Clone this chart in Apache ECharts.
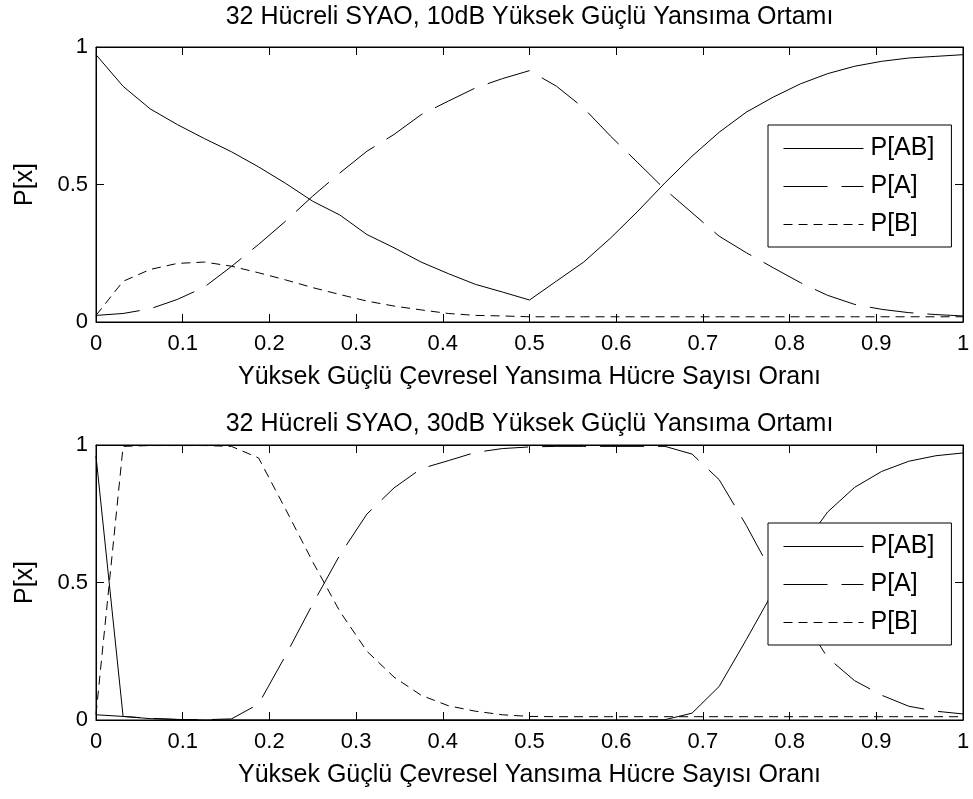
<!DOCTYPE html>
<html>
<head>
<meta charset="utf-8">
<title>SYAO</title>
<script src="https://cdn.jsdelivr.net/npm/echarts@6/dist/echarts.min.js"></script>
<style>
  html, body { margin: 0; padding: 0; background: #fff; }
  #chart { width: 973px; height: 799px; }
</style>
</head>
<body>
<div id="chart"></div>
<script>
// Number of high-power clutter cells out of 32 (x axis is this count / 32)
const cellCounts = [0, 1, 2, 3, 4, 5, 6, 7, 8, 9, 10, 11, 12, 13, 14, 15, 16,
                    17, 18, 19, 20, 21, 22, 23, 24, 25, 26, 27, 28, 29, 30, 31, 32];
const totalCells = 32;

const xTicks = ['0', '0.1', '0.2', '0.3', '0.4', '0.5', '0.6', '0.7', '0.8', '0.9', '1'];
const yTicks = ['0', '0.5', '1'];

const seriesNames = ['P[AB]', 'P[A]', 'P[B]'];
const titles = [
  '32 Hücreli SYAO, 10dB Yüksek Güçlü Yansıma Ortamı',
  '32 Hücreli SYAO, 30dB Yüksek Güçlü Yansıma Ortamı'
];
const xName = 'Yüksek Güçlü Çevresel Yansıma Hücre Sayısı Oranı';
const yName = 'P[x]';

// 10 dB environment
const pAB10 = [0.972, 0.857, 0.775, 0.718, 0.667, 0.619, 0.564, 0.504, 0.439, 0.389, 0.318,
               0.270, 0.218, 0.176, 0.137, 0.109, 0.080, 0.149, 0.218, 0.306, 0.403, 0.506,
               0.603, 0.690, 0.763, 0.818, 0.866, 0.903, 0.930, 0.948, 0.960, 0.966, 0.972];
const pA10  = [0.024, 0.031, 0.048, 0.082, 0.127, 0.202, 0.282, 0.367, 0.458, 0.542, 0.621,
               0.682, 0.754, 0.803, 0.851, 0.885, 0.914, 0.857, 0.778, 0.675, 0.579, 0.482,
               0.397, 0.312, 0.252, 0.197, 0.143, 0.097, 0.064, 0.046, 0.034, 0.027, 0.022];
const pB10  = [0.024, 0.148, 0.191, 0.213, 0.218, 0.203, 0.179, 0.153, 0.125, 0.100, 0.076,
               0.058, 0.044, 0.031, 0.024, 0.022, 0.019, 0.019, 0.019, 0.019, 0.019, 0.019,
               0.019, 0.019, 0.019, 0.019, 0.019, 0.019, 0.019, 0.019, 0.019, 0.019, 0.019];

// 30 dB environment
const pAB30 = [0.960, 0.013, 0.005, 0.002, 0.000, 0.000, 0.000, 0.000, 0.000, 0.000, 0.000,
               0.000, 0.000, 0.000, 0.000, 0.000, 0.000, 0.000, 0.000, 0.000, 0.000, 0.001,
               0.025, 0.122, 0.292, 0.468, 0.621, 0.756, 0.846, 0.904, 0.941, 0.961, 0.971];
const pA30  = [0.019, 0.013, 0.006, 0.002, 0.001, 0.004, 0.058, 0.235, 0.422, 0.600, 0.749,
               0.844, 0.914, 0.943, 0.973, 0.987, 0.993, 0.995, 0.995, 0.995, 0.995, 0.995,
               0.967, 0.874, 0.708, 0.526, 0.383, 0.227, 0.143, 0.090, 0.050, 0.032, 0.022];
const pB30  = [0.020, 0.995, 0.998, 0.998, 0.998, 0.995, 0.953, 0.766, 0.575, 0.395, 0.250,
               0.156, 0.090, 0.052, 0.032, 0.019, 0.013, 0.012, 0.012, 0.012, 0.012, 0.012,
               0.012, 0.012, 0.012, 0.012, 0.012, 0.012, 0.012, 0.012, 0.012, 0.012, 0.012];

const panels = [
  { title: titles[0], values: [pAB10, pA10, pB10], titleTop: 5 },
  { title: titles[1], values: [pAB30, pA30, pB30], titleTop: 412 }
];

const FONT = "'Liberation Sans', Arial, Helvetica, sans-serif";
const lineTypes = ['solid', [44, 14], [9, 6]];

const plotLeft = 96, plotWidth = 867;
const plotTops = [47, 445];
const plotHeight = 275;

const grids = [], xAxes = [], yAxes = [], series = [], titleOpts = [], legends = [];

const baseTick = { show: true, inside: true, length: 8, lineStyle: { color: '#000', width: 1 } };
const baseLine = { show: true, onZero: false, lineStyle: { color: '#000', width: 1 } };

panels.forEach((panel, g) => {
  grids.push({ left: plotLeft, top: plotTops[g], width: plotWidth, height: plotHeight,
               show: true, borderColor: '#000', borderWidth: 1, backgroundColor: '#fff' });

  // bottom x axis with labels, top x axis with ticks only
  xAxes.push({
    type: 'value', gridIndex: g, position: 'bottom', min: 0, max: 1, interval: 0.1,
    axisLine: baseLine, axisTick: baseTick, splitLine: { show: false },
    axisLabel: { color: '#000', fontSize: 22, fontFamily: FONT, margin: 11,
                 formatter: (v) => xTicks[Math.round(v * 10)] },
    name: xName, nameLocation: 'middle', nameGap: 43,
    nameTextStyle: { color: '#000', fontSize: 25, fontFamily: FONT }
  });
  xAxes.push({
    type: 'value', gridIndex: g, position: 'top', min: 0, max: 1, interval: 0.1,
    axisLine: baseLine, axisTick: baseTick, splitLine: { show: false },
    axisLabel: { show: false }
  });
  // left y axis with labels, right y axis with ticks only
  yAxes.push({
    type: 'value', gridIndex: g, position: 'left', min: 0, max: 1, interval: 0.5,
    axisLine: baseLine, axisTick: baseTick, splitLine: { show: false },
    axisLabel: { color: '#000', fontSize: 22, fontFamily: FONT, margin: 8,
                 formatter: (v) => yTicks[Math.round(v * 2)] },
    name: yName, nameLocation: 'middle', nameGap: 58,
    nameTextStyle: { color: '#000', fontSize: 25, fontFamily: FONT }
  });
  yAxes.push({
    type: 'value', gridIndex: g, position: 'right', min: 0, max: 1, interval: 0.5,
    axisLine: baseLine, axisTick: baseTick, splitLine: { show: false },
    axisLabel: { show: false }
  });

  panel.values.forEach((vals, s) => {
    series.push({
      name: seriesNames[s], type: 'line', xAxisIndex: g * 2, yAxisIndex: g * 2,
      data: cellCounts.map((n, i) => [n / totalCells, vals[i]]),
      symbol: 'none', animation: false, z: 3 - s,
      lineStyle: { color: '#000', width: 1, type: lineTypes[s] },
      itemStyle: { color: '#000' }
    });
  });

  titleOpts.push({
    text: panel.title, left: plotLeft + plotWidth / 2, top: panel.titleTop,
    textAlign: 'center', padding: 0,
    textStyle: { color: '#000', fontSize: 25, fontWeight: 'normal', fontFamily: FONT }
  });

  legends.push({
    data: seriesNames, orient: 'vertical', left: 768, top: plotTops[g] + 78,
    itemWidth: 80, itemHeight: 14, itemGap: 13,
    padding: [11, 17, 10, 15],
    backgroundColor: '#fff', borderColor: '#000', borderWidth: 1, borderRadius: 0,
    selectedMode: false,
    textStyle: { color: '#000', fontSize: 25, fontFamily: FONT, padding: [0, 0, 0, 2] },
    lineStyle: { color: '#000', width: 1 },
    // keys show only the line pattern
    itemStyle: { opacity: 0, color: 'transparent', borderWidth: 0 }
  });
});

const chart = echarts.init(document.getElementById('chart'), null, { renderer: 'canvas' });
chart.setOption({
  backgroundColor: '#fff',
  animation: false,
  title: titleOpts,
  legend: legends,
  grid: grids,
  xAxis: xAxes,
  yAxis: yAxes,
  series: series
});
</script>
</body>
</html>
